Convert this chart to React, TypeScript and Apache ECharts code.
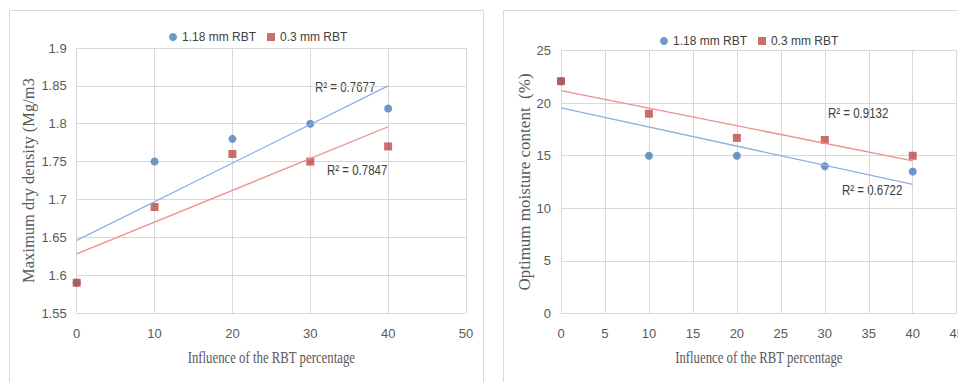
import React, { useEffect, useRef } from "react";
import * as echarts from "echarts";

// ---- data ----
const rbtPercent = [0, 10, 20, 30, 40];
const mddCoarse = [1.59, 1.75, 1.78, 1.8, 1.82]; // 1.18 mm RBT
const mddFine = [1.59, 1.69, 1.76, 1.75, 1.77]; // 0.3 mm RBT
const omcCoarse = [22.1, 15.0, 15.0, 14.0, 13.5]; // 1.18 mm RBT
const omcFine = [22.1, 19.0, 16.7, 16.5, 15.0]; // 0.3 mm RBT

const seriesNames = ["1.18 mm RBT", "0.3 mm RBT"];
const r2Left = ["R² = 0.7677", "R² = 0.7847"];
const r2Right = ["R² = 0.9132", "R² = 0.6722"];
const xTitle = "Influence of the RBT percentage";
const leftYTitle = "Maximum dry density (Mg/m3";
const rightYTitle = "Optimum moisture content  (%)";
const leftYTicks = { min: 1.55, max: 1.9, interval: 0.05 };
const leftXTicks = { min: 0, max: 50, interval: 10 };
const rightYTicks = { min: 0, max: 25, interval: 5 };
const rightXTicks = { min: 0, max: 45, interval: 5 };

const BLUE = "#4a7ebb";
const RED = "#be4b48";
const BLUE_TREND = "#8eb0dc";
const RED_TREND = "#ec8f8c";
const GRID = "#d9d9d9";
const SANS = "'Liberation Sans', Arial, sans-serif";
const SERIF = "'Liberation Serif', 'Times New Roman', serif";

function fit(xs: number[], ys: number[]) {
  const n = xs.length;
  const mx = xs.reduce((a, b) => a + b, 0) / n;
  const my = ys.reduce((a, b) => a + b, 0) / n;
  let sxy = 0;
  let sxx = 0;
  for (let i = 0; i < n; i++) {
    sxy += (xs[i] - mx) * (ys[i] - my);
    sxx += (xs[i] - mx) * (xs[i] - mx);
  }
  const b = sxy / sxx;
  const a = my - b * mx;
  const x0 = xs[0];
  const x1 = xs[n - 1];
  return [
    [x0, a + b * x0],
    [x1, a + b * x1],
  ];
}

const pts = (ys: number[]) => rbtPercent.map((x, i) => [x, ys[i]]);

export default function App() {
  const ref = useRef<HTMLDivElement>(null);
  useEffect(() => {
    if (!ref.current) return;
    const chart = echarts.init(ref.current, undefined, { renderer: "svg" });
    const tickLabel = { color: "#595959", fontFamily: SANS, fontSize: 13 };
    const axisName = { color: "#595959", fontFamily: SERIF };
    const splitLine = { show: true, lineStyle: { color: GRID, width: 1 } };
    const legendCommon = {
      itemWidth: 8,
      itemHeight: 8,
      itemGap: 11,
      textStyle: { color: "#404040", fontFamily: SANS, fontSize: 12 },
      data: [
        { name: seriesNames[0], icon: "circle" },
        { name: seriesNames[1], icon: "rect" },
      ],
    };
    const xAxisBase = (ticks: any, gridIndex: number) => ({
      type: "value",
      gridIndex,
      ...ticks,
      axisLine: { show: true, lineStyle: { color: GRID } },
      axisTick: { show: false },
      axisLabel: { ...tickLabel, margin: 14 },
      splitLine,
    });
    const r2Text = (text: string, x: number, y: number) => ({
      type: "text",
      x,
      y,
      scaleX: 0.82,
      style: { text, fill: "#404040", font: `14px ${SANS}`, verticalAlign: "middle" },
    });
    const xTitleText = (x: number) => ({
      type: "text",
      x,
      y: 357,
      scaleX: 0.8,
      style: { text: xTitle, fill: "#595959", font: `16px ${SERIF}`, textAlign: "center", verticalAlign: "middle" },
    });
    const option: any = {
      animation: false,
      backgroundColor: "#ffffff",
      legend: [
        { ...legendCommon, left: 164, top: 26 },
        { ...legendCommon, left: 655, top: 30 },
      ],
      grid: [
        { left: 76.7, right: 492, top: 48, bottom: 69, containLabel: false, outerBoundsMode: "none" },
        { left: 561, right: 1.3, top: 50.7, bottom: 68.7, containLabel: false, outerBoundsMode: "none" },
      ],
      xAxis: [xAxisBase(leftXTicks, 0), xAxisBase(rightXTicks, 1)],
      yAxis: [
        {
          type: "value",
          gridIndex: 0,
          ...leftYTicks,
          name: leftYTitle,
          nameLocation: "middle",
          nameGap: 26,
          nameTextStyle: { ...axisName, fontSize: 16.5 },
          axisLine: { show: false },
          axisTick: { show: false },
          axisLabel: { ...tickLabel, margin: 10, formatter: (v: number) => String(+v.toFixed(2)) },
          splitLine,
        },
        {
          type: "value",
          gridIndex: 1,
          ...rightYTicks,
          name: rightYTitle,
          nameLocation: "middle",
          nameGap: 19.5,
          nameTextStyle: { ...axisName, fontSize: 17 },
          axisLine: { show: false },
          axisTick: { show: false },
          axisLabel: { ...tickLabel, margin: 10 },
          splitLine,
        },
      ],
      series: [
        // trend lines (drawn first, under the markers)
        { name: "trend-mdd-coarse", type: "line", xAxisIndex: 0, yAxisIndex: 0, data: fit(rbtPercent, mddCoarse), showSymbol: false, lineStyle: { color: BLUE_TREND, width: 1.3 }, silent: true },
        { name: "trend-mdd-fine", type: "line", xAxisIndex: 0, yAxisIndex: 0, data: fit(rbtPercent, mddFine), showSymbol: false, lineStyle: { color: RED_TREND, width: 1.3 }, silent: true },
        { name: "trend-omc-coarse", type: "line", xAxisIndex: 1, yAxisIndex: 1, data: fit(rbtPercent, omcCoarse), showSymbol: false, lineStyle: { color: BLUE_TREND, width: 1.3 }, silent: true },
        { name: "trend-omc-fine", type: "line", xAxisIndex: 1, yAxisIndex: 1, data: fit(rbtPercent, omcFine), showSymbol: false, lineStyle: { color: RED_TREND, width: 1.3 }, silent: true },
        // markers
        { name: seriesNames[0], type: "scatter", xAxisIndex: 0, yAxisIndex: 0, data: pts(mddCoarse), symbol: "circle", symbolSize: 8, itemStyle: { color: BLUE } },
        { name: seriesNames[1], type: "scatter", xAxisIndex: 0, yAxisIndex: 0, data: pts(mddFine), symbol: "rect", symbolSize: 8, itemStyle: { color: RED } },
        { name: seriesNames[0], type: "scatter", xAxisIndex: 1, yAxisIndex: 1, data: pts(omcCoarse), symbol: "circle", symbolSize: 8, itemStyle: { color: BLUE } },
        { name: seriesNames[1], type: "scatter", xAxisIndex: 1, yAxisIndex: 1, data: pts(omcFine), symbol: "rect", symbolSize: 8, itemStyle: { color: RED } },
      ],
      graphic: [
        { type: "rect", z: -10, shape: { x: 9.5, y: 10.5, width: 474, height: 390 }, style: { fill: "none", stroke: GRID, lineWidth: 1 } },
        { type: "rect", z: -10, shape: { x: 503.5, y: 10.5, width: 470, height: 390 }, style: { fill: "none", stroke: GRID, lineWidth: 1 } },
        r2Text(r2Left[0], 315, 87),
        r2Text(r2Left[1], 327, 170),
        r2Text(r2Right[0], 828, 113),
        r2Text(r2Right[1], 842, 190.5),
        xTitleText(271.3),
        xTitleText(758.8),
      ],
    };
    chart.setOption(option);
    return () => chart.dispose();
  }, []);
  return (
    <div
      ref={ref}
      style={{ position: "fixed", left: 0, top: 0, width: 958, height: 382, background: "#fff" }}
    />
  );
}
